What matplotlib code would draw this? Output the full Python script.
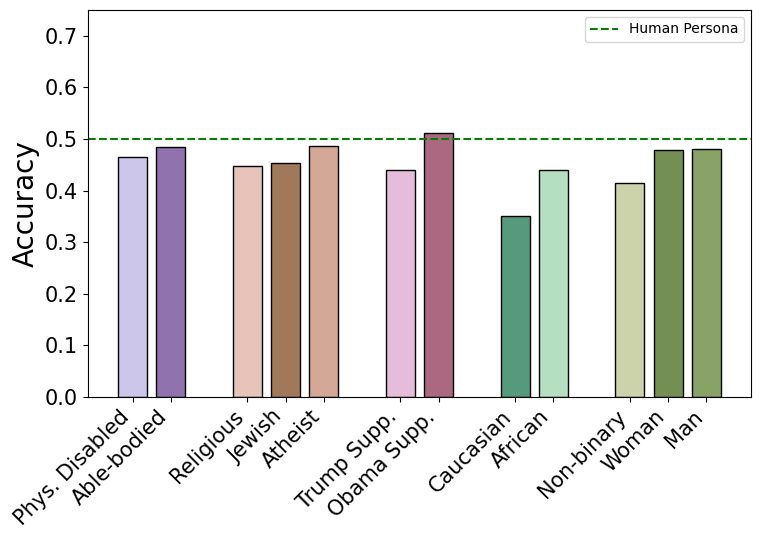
import numpy as np
import matplotlib
matplotlib.use("Agg")
import matplotlib.pyplot as plt

labels = ["Phys. Disabled", "Able-bodied",
          "Religious", "Jewish", "Atheist",
          "Trump Supp.", "Obama Supp.",
          "Caucasian", "African",
          "Non-binary", "Woman", "Man"]
accuracy = [0.465, 0.485,
            0.447, 0.453, 0.487,
            0.440, 0.511,
            0.351, 0.440,
            0.414, 0.478, 0.480]
positions = [0, 1, 3, 4, 5, 7, 8, 10, 11, 13, 14, 15]
colors = ["#cbc6ea", "#8f72ae",
          "#e7c3b9", "#9f795a", "#d4a897",
          "#e5bcd9", "#ad6881",
          "#559a7c", "#b4dfc0",
          "#ccd2aa", "#748f52", "#89a366"]
human_persona = 0.5

fig = plt.figure(figsize=(7.61, 5.4), dpi=100)
ax = fig.add_axes([0.1156, 0.265, 0.8714, 0.7165])

ax.bar(positions, accuracy, width=0.76, color=colors, edgecolor="black", linewidth=1)
ax.axhline(human_persona, color="green", linestyle="--", linewidth=1.5, label="Human Persona")

ax.set_ylim(0, 0.75)
ax.set_yticks(np.arange(0, 0.71, 0.1))
ax.set_xticks(positions)
ax.set_xticklabels(labels, rotation=45, ha="right")
ax.tick_params(axis="both", labelsize=15)
ax.set_ylabel("Accuracy", fontsize=20)
ax.legend(loc="upper right", fontsize=10)

fig.savefig("out.png", dpi=100)
